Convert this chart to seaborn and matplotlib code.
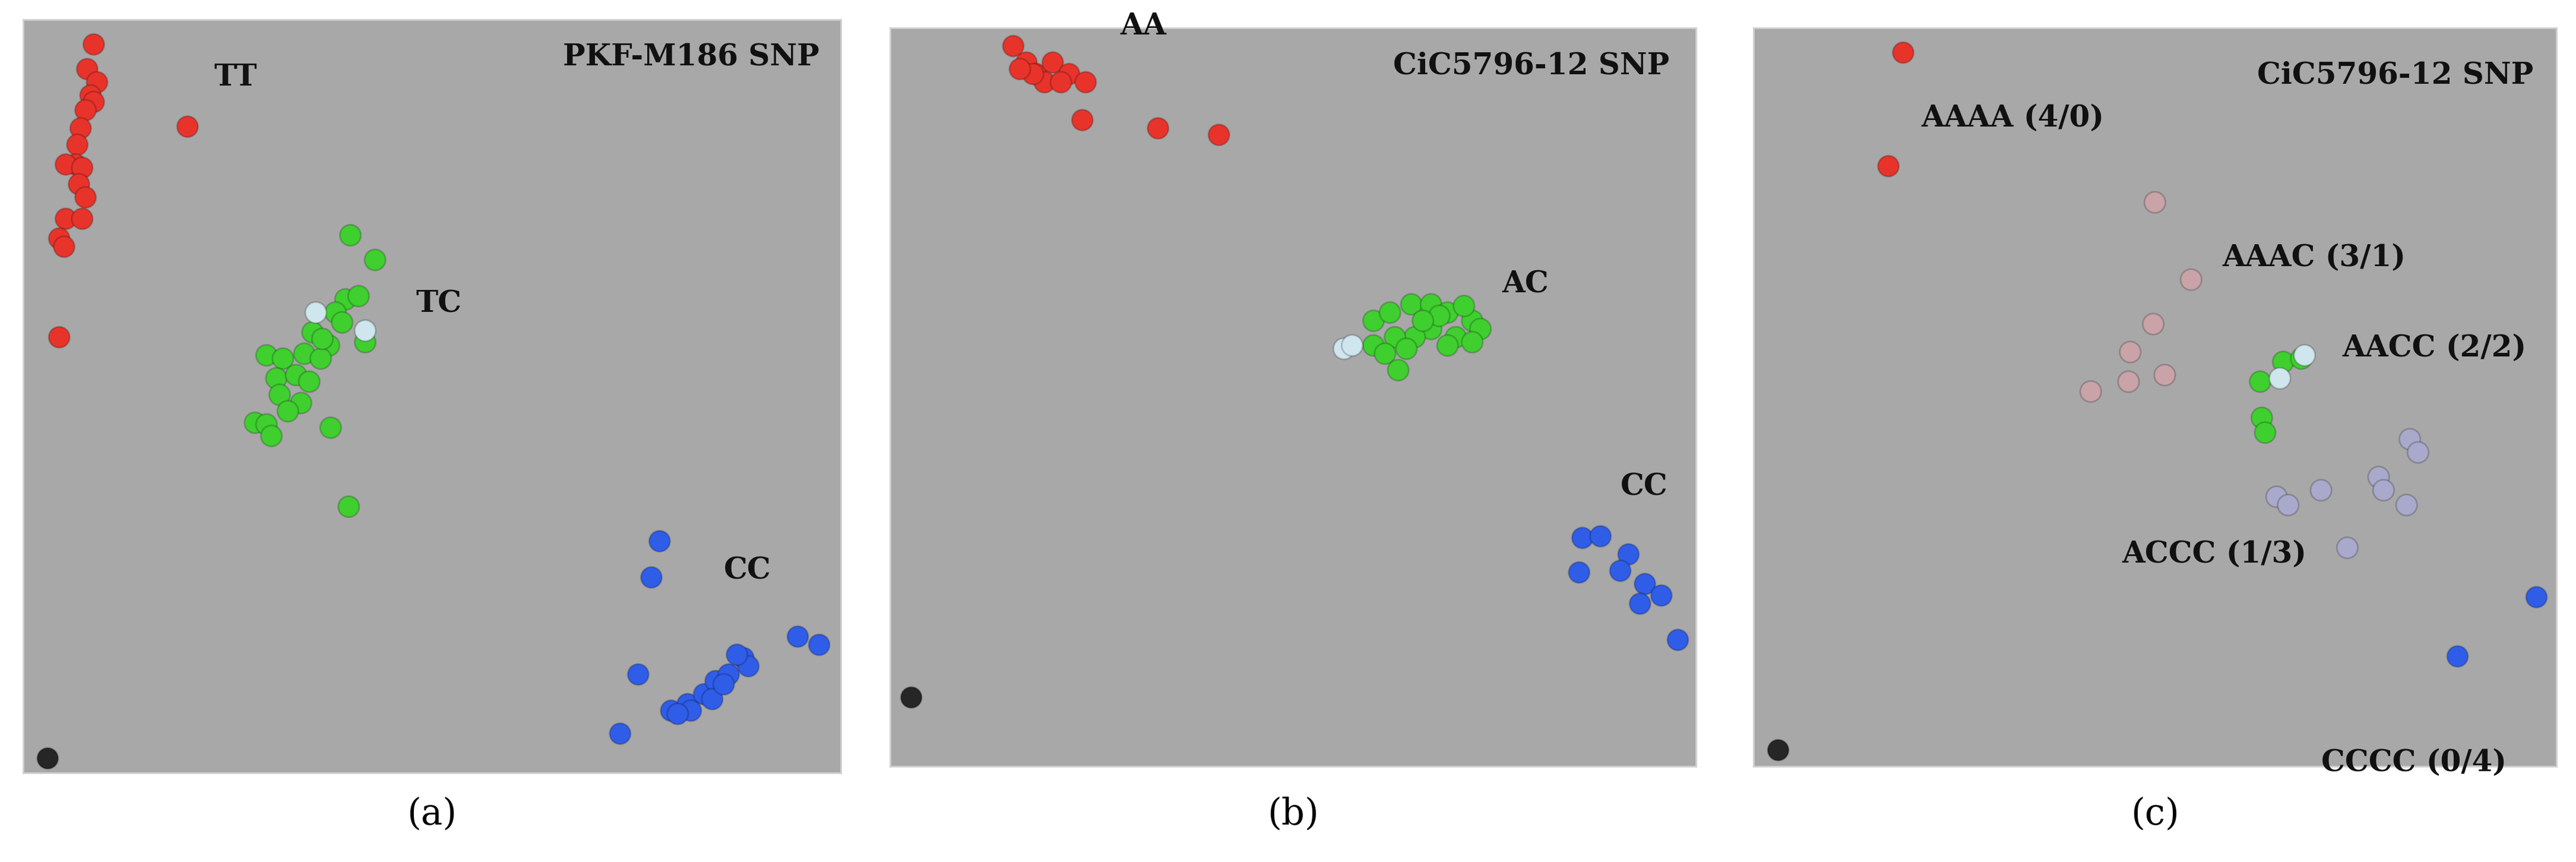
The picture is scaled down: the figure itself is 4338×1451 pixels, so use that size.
import matplotlib
matplotlib.use("Agg")
import matplotlib.pyplot as plt
import pandas as pd
import seaborn as sns

# Points, in picture pixels (display scale 1566 wide)
# panel a: PKF-M186
a_red = [(57,27),(53,42),(59,50),(55,58),(57,62),(52,67),(49,78),(47,88),(46,100),(40,100),(50,102),
         (48,112),(52,120),(40,133),(50,133),(36,145),(39,150),(114,77),(36,205)]
a_green = [(213,143),(228,158),(210,182),(218,180),(204,190),(190,202),(222,208),(200,210),(162,216),
           (172,218),(185,215),(195,218),(168,230),(180,228),(188,232),(170,240),(183,245),(155,257),
           (162,258),(175,250),(165,265),(201,260),(212,308),(208,196),(196,206)]
a_cyan = [(192,190),(222,201)]
a_blue = [(401,329),(396,351),(388,410),(377,446),(485,387),(498,392),(408,432),(418,428),(428,422),
          (435,414),(443,410),(452,400),(455,405),(448,398),(433,425),(420,432),(412,434),(440,416)]
a_black = [(29,461)]

# panel b: CiC5796-12
b_red = [(616,28),(624,38),(630,45),(640,38),(650,45),(660,50),(635,50),(645,50),(628,45),(620,42),
         (658,73),(704,78),(741,82)]
b_green = [(835,195),(845,190),(858,185),(870,185),(880,190),(895,195),(900,200),(885,205),(870,200),
           (860,205),(848,205),(835,210),(842,215),(855,212),(880,210),(895,208),(850,225),(875,192),
           (865,195),(890,186)]
b_cyan = [(817,212),(822,210)]
b_blue = [(962,327),(973,326),(990,337),(985,347),(960,348),(1000,355),(1010,362),(997,367),(1020,389)]
b_black = [(554,424)]

# panel c: CiC5796-12 tetraploid
c_red = [(1157,32),(1148,101)]
c_pink = [(1310,123),(1332,170),(1309,197),(1295,214),(1316,228),(1294,232),(1271,238)]
c_green = [(1388,220),(1399,218),(1374,232),(1375,254),(1377,263)]
c_cyan = [(1401,216),(1386,230)]
c_lav = [(1465,267),(1470,275),(1446,290),(1449,298),(1411,298),(1384,302),(1391,307),(1463,307),(1427,333)]
c_blue = [(1542,363),(1494,399)]
c_black = [(1081,456)]

colors = {"red": "#e8332b", "green": "#3fcf2f", "cyan": "#cfe6ee", "blue": "#2f5de8",
          "black": "#262626", "pink": "#c9a3a8", "lav": "#a9a9cc"}

panels = [
    dict(box=(14, 12, 511, 470), groups=[("red", a_red), ("green", a_green), ("cyan", a_cyan),
                                          ("blue", a_blue), ("black", a_black)],
         labels=[("TT", 130, 47, "left"), ("TC", 253, 185, "left"), ("CC", 440, 347, "left"),
                 ("PKF-M186 SNP", 498, 35, "right")], cap="(a)"),
    dict(box=(541, 17, 1031, 466), groups=[("red", b_red), ("green", b_green), ("cyan", b_cyan),
                                            ("blue", b_blue), ("black", b_black)],
         labels=[("AA", 681, 16, "left"), ("AC", 913, 173, "left"), ("CC", 985, 296, "left"),
                 ("CiC5796-12 SNP", 1015, 40, "right")], cap="(b)"),
    dict(box=(1066, 17, 1554, 466), groups=[("red", c_red), ("pink", c_pink), ("green", c_green),
                                             ("cyan", c_cyan), ("lav", c_lav), ("blue", c_blue),
                                             ("black", c_black)],
         labels=[("CiC5796-12 SNP", 1540, 46, "right"), ("AAAA (4/0)", 1168, 72, "left"),
                 ("AAAC (3/1)", 1351, 157, "left"), ("AACC (2/2)", 1424, 212, "left"),
                 ("ACCC (1/3)", 1290, 337, "left"), ("CCCC (0/4)", 1411, 464, "left")], cap="(c)"),
]

W, H = 1566, 524
fig = plt.figure(figsize=(43.38, 14.51), dpi=100)
font = dict(family="DejaVu Serif", fontweight="bold", fontsize=36, color="#111111")

for p in panels:
    x0, y0, x1, y1 = p["box"]
    ax = fig.add_axes([x0 / W, 1 - y1 / H, (x1 - x0) / W, (y1 - y0) / H])
    ax.set_facecolor("#a8a8a8")
    rows = [(x, y, g) for g, pts in p["groups"] for x, y in pts]
    df = pd.DataFrame(rows, columns=["x", "y", "grp"])
    sns.scatterplot(data=df, x="x", y="y", hue="grp", palette=colors, s=650,
                    edgecolor="#00000033", linewidth=2, legend=False, ax=ax)
    ax.set_xlim(x0, x1)
    ax.set_ylim(y1, y0)
    ax.set_xticks([])
    ax.set_yticks([])
    ax.set_xlabel("")
    ax.set_ylabel("")
    for s in ax.spines.values():
        s.set_color("#d0d0d0")
        s.set_linewidth(2)
    for txt, tx, ty, ha in p["labels"]:
        ax.text(tx, ty, txt, ha=ha, va="center", **font)
    fig.text((x0 + x1) / 2 / W, 1 - 495 / H, p["cap"], ha="center", va="center",
             family="DejaVu Serif", fontsize=44)

fig.savefig("out.png", dpi=100)
